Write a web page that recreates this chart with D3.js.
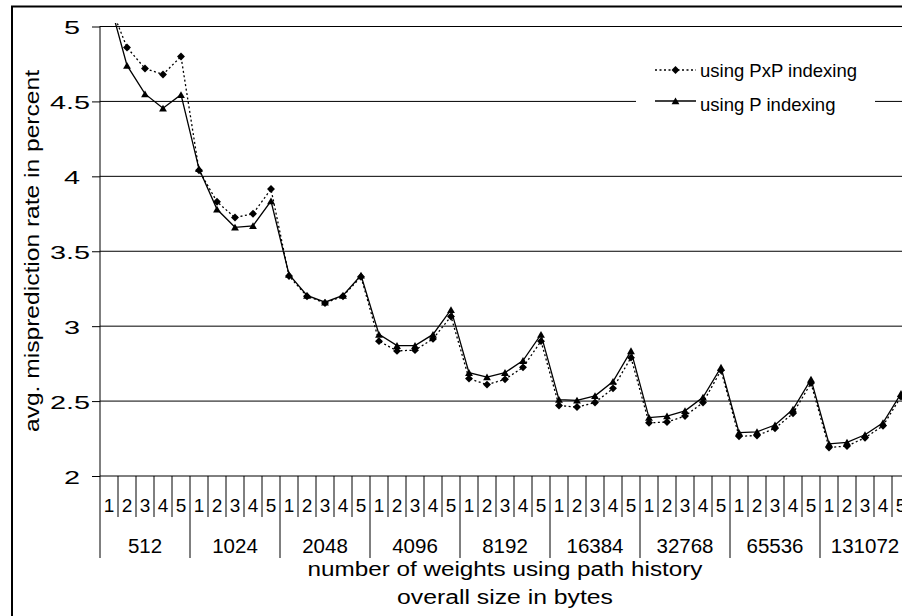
<!DOCTYPE html>
<html>
<head>
<meta charset="utf-8">
<script src="https://cdn.jsdelivr.net/npm/d3@7"></script>
<style>
  html, body { margin: 0; padding: 0; background: #fff; }
  svg { display: block; }
  text { font-family: "Liberation Sans", Arial, sans-serif; fill: #000; }
</style>
</head>
<body>
<svg id="chart" width="902" height="616"></svg>
<script>
// Table sizes (bytes) and the path-history lengths tried for each size
const groups = ["512", "1024", "2048", "4096", "8192", "16384", "32768", "65536", "131072"];
const historyLengths = ["1", "2", "3", "4", "5"];

// Average misprediction rate (%) for each size x history length
const pxpRates = [
  5.16, 4.86, 4.72, 4.68, 4.80,
  4.04, 3.83, 3.725, 3.75, 3.915,
  3.335, 3.20, 3.155, 3.20, 3.33,
  2.90, 2.835, 2.84, 2.915, 3.065,
  2.65, 2.61, 2.645, 2.725, 2.90,
  2.47, 2.46, 2.49, 2.585, 2.79,
  2.355, 2.36, 2.40, 2.49, 2.705,
  2.265, 2.27, 2.318, 2.418, 2.62,
  2.19, 2.20, 2.255, 2.335, 2.53
];
const pRates = [
  5.18, 4.74, 4.55, 4.455, 4.545,
  4.05, 3.78, 3.66, 3.67, 3.835,
  3.345, 3.205, 3.16, 3.205, 3.34,
  2.945, 2.87, 2.87, 2.945, 3.11,
  2.69, 2.66, 2.69, 2.77, 2.945,
  2.51, 2.505, 2.535, 2.63, 2.835,
  2.39, 2.40, 2.435, 2.525, 2.725,
  2.29, 2.295, 2.34, 2.445, 2.645,
  2.215, 2.225, 2.275, 2.355, 2.55
];

const yTicks = [2, 2.5, 3, 3.5, 4, 4.5, 5];
const yTickLabels = ["2", "2.5", "3", "3.5", "4", "4.5", "5"];

const seriesNames = ["using PxP indexing", "using P indexing"];
const yTitle = "avg. misprediction rate in percent";
const xTitle1 = "number of weights using path history";
const xTitle2 = "overall size in bytes";

// ---- layout ----
const plot = { left: 100, right: 910, top: 26, bottom: 476 };
const svg = d3.select("#chart");

const categories = d3.range(groups.length * historyLengths.length);
const x = d3.scaleBand().domain(categories).range([plot.left, plot.right]).padding(0);
const xGroup = d3.scaleBand().domain(groups).range([plot.left, plot.right]).padding(0);
const y = d3.scaleLinear().domain([2, 5]).range([plot.bottom, plot.top + 0.5]);
const cx = i => x(i) + x.bandwidth() / 2;

// outer frame
svg.append("rect")
  .attr("x", 12).attr("y", 6.5)
  .attr("width", 1000).attr("height", 1000)
  .attr("fill", "none").attr("stroke", "#000").attr("stroke-width", 2);

// horizontal gridlines
svg.append("g").selectAll("line")
  .data(yTicks.filter(v => v > 2))
  .join("line")
  .attr("x1", plot.left).attr("x2", plot.right)
  .attr("y1", d => y(d)).attr("y2", d => y(d))
  .attr("stroke", "#000").attr("stroke-width", 1);

// value axis; whole-number labels end at 80, half-step labels run closer to the ticks
const yAxis = d3.axisLeft(y).tickValues(yTicks).tickSize(8).tickFormat((d, i) => yTickLabels[i]);
const gy = svg.append("g").attr("transform", `translate(${plot.left},0)`).call(yAxis);
gy.select(".domain").attr("stroke", "#000").attr("d", `M0,${plot.top}V${plot.bottom}`);
gy.selectAll(".tick line").attr("stroke", "#000");
gy.selectAll(".tick text")
  .attr("x", null).attr("dy", null)
  .attr("font-size", 18.6)
  .attr("text-anchor", "end")
  .attr("transform", d => `translate(${Number.isInteger(d) ? -20 : -10},7) scale(1.55,1)`);

// category axis: baseline, sub-ticks, group separators
svg.append("line")
  .attr("x1", plot.left).attr("x2", plot.right)
  .attr("y1", plot.bottom).attr("y2", plot.bottom)
  .attr("stroke", "#000").attr("stroke-width", 1);

svg.append("g").selectAll("line")
  .data(categories.filter(i => i % historyLengths.length !== 0))
  .join("line")
  .attr("x1", d => x(d)).attr("x2", d => x(d))
  .attr("y1", plot.bottom).attr("y2", plot.bottom + 41)
  .attr("stroke", "#000").attr("stroke-width", 1);

svg.append("g").selectAll("line")
  .data(groups)
  .join("line")
  .attr("x1", d => xGroup(d)).attr("x2", d => xGroup(d))
  .attr("y1", plot.bottom).attr("y2", plot.bottom + 82)
  .attr("stroke", "#000").attr("stroke-width", 1);

svg.append("g").selectAll("text")
  .data(categories)
  .join("text")
  .attr("x", d => cx(d))
  .attr("y", 512)
  .attr("text-anchor", "middle")
  .attr("font-size", 19)
  .text(d => historyLengths[d % historyLengths.length]);

svg.append("g").selectAll("text")
  .data(groups)
  .join("text")
  .attr("x", d => xGroup(d) + xGroup.bandwidth() / 2)
  .attr("y", 553)
  .attr("text-anchor", "middle")
  .attr("font-size", 20.5)
  .text(d => d);

// axis titles
const xMid = (plot.left + plot.right) / 2;
svg.append("text")
  .attr("x", xMid).attr("y", 576)
  .attr("text-anchor", "middle").attr("font-size", 19.5)
  .attr("textLength", 395).attr("lengthAdjust", "spacingAndGlyphs")
  .text(xTitle1);
svg.append("text")
  .attr("x", xMid).attr("y", 604)
  .attr("text-anchor", "middle").attr("font-size", 19.5)
  .attr("textLength", 216).attr("lengthAdjust", "spacingAndGlyphs")
  .text(xTitle2);
svg.append("text")
  .attr("transform", "translate(39,251) rotate(-90)")
  .attr("text-anchor", "middle").attr("font-size", 20)
  .attr("textLength", 362).attr("lengthAdjust", "spacingAndGlyphs")
  .text(yTitle);

// data lines, clipped to the plot area
svg.append("clipPath").attr("id", "plotClip")
  .append("rect")
  .attr("x", plot.left).attr("y", plot.top - 3)
  .attr("width", plot.right - plot.left).attr("height", plot.bottom - plot.top + 3);

const line = d3.line().x((d, i) => cx(i)).y(d => y(d));
const dataG = svg.append("g").attr("clip-path", "url(#plotClip)");

const diamond = d3.symbol().type(d3.symbolDiamond2).size(40);
const triangle = d3.symbol().type(d3.symbolTriangle2).size(44);

dataG.append("path").datum(pxpRates)
  .attr("d", line).attr("fill", "none")
  .attr("stroke", "#000").attr("stroke-width", 1.3)
  .attr("stroke-dasharray", "2,2.5");
dataG.append("path").datum(pRates)
  .attr("d", line).attr("fill", "none")
  .attr("stroke", "#000").attr("stroke-width", 1.3);

dataG.append("g").selectAll("path")
  .data(pxpRates)
  .join("path")
  .attr("transform", (d, i) => `translate(${cx(i)},${y(d)})`)
  .attr("d", diamond).attr("fill", "#000");
dataG.append("g").selectAll("path")
  .data(pRates)
  .join("path")
  .attr("transform", (d, i) => `translate(${cx(i)},${y(d) + 1})`)
  .attr("d", triangle).attr("fill", "#000");

// legend
const legend = svg.append("g");
legend.append("rect")
  .attr("x", 636).attr("y", 52).attr("width", 239).attr("height", 70)
  .attr("fill", "#fff");
const legendRows = [
  { y: 70, dash: "2,2.5", sym: diamond, dy: 0 },
  { y: 101, dash: null, sym: triangle, dy: 1 }
];
legendRows.forEach((r, k) => {
  legend.append("line")
    .attr("x1", 655).attr("x2", 696).attr("y1", r.y).attr("y2", r.y)
    .attr("stroke", "#000").attr("stroke-width", 1.3)
    .attr("stroke-dasharray", r.dash);
  legend.append("path")
    .attr("transform", `translate(675.5,${r.y + r.dy})`)
    .attr("d", r.sym).attr("fill", "#000");
  legend.append("text")
    .attr("x", 700).attr("y", k === 0 ? 76.5 : 111)
    .attr("font-size", 18.5)
    .text(seriesNames[k]);
});
</script>
</body>
</html>
